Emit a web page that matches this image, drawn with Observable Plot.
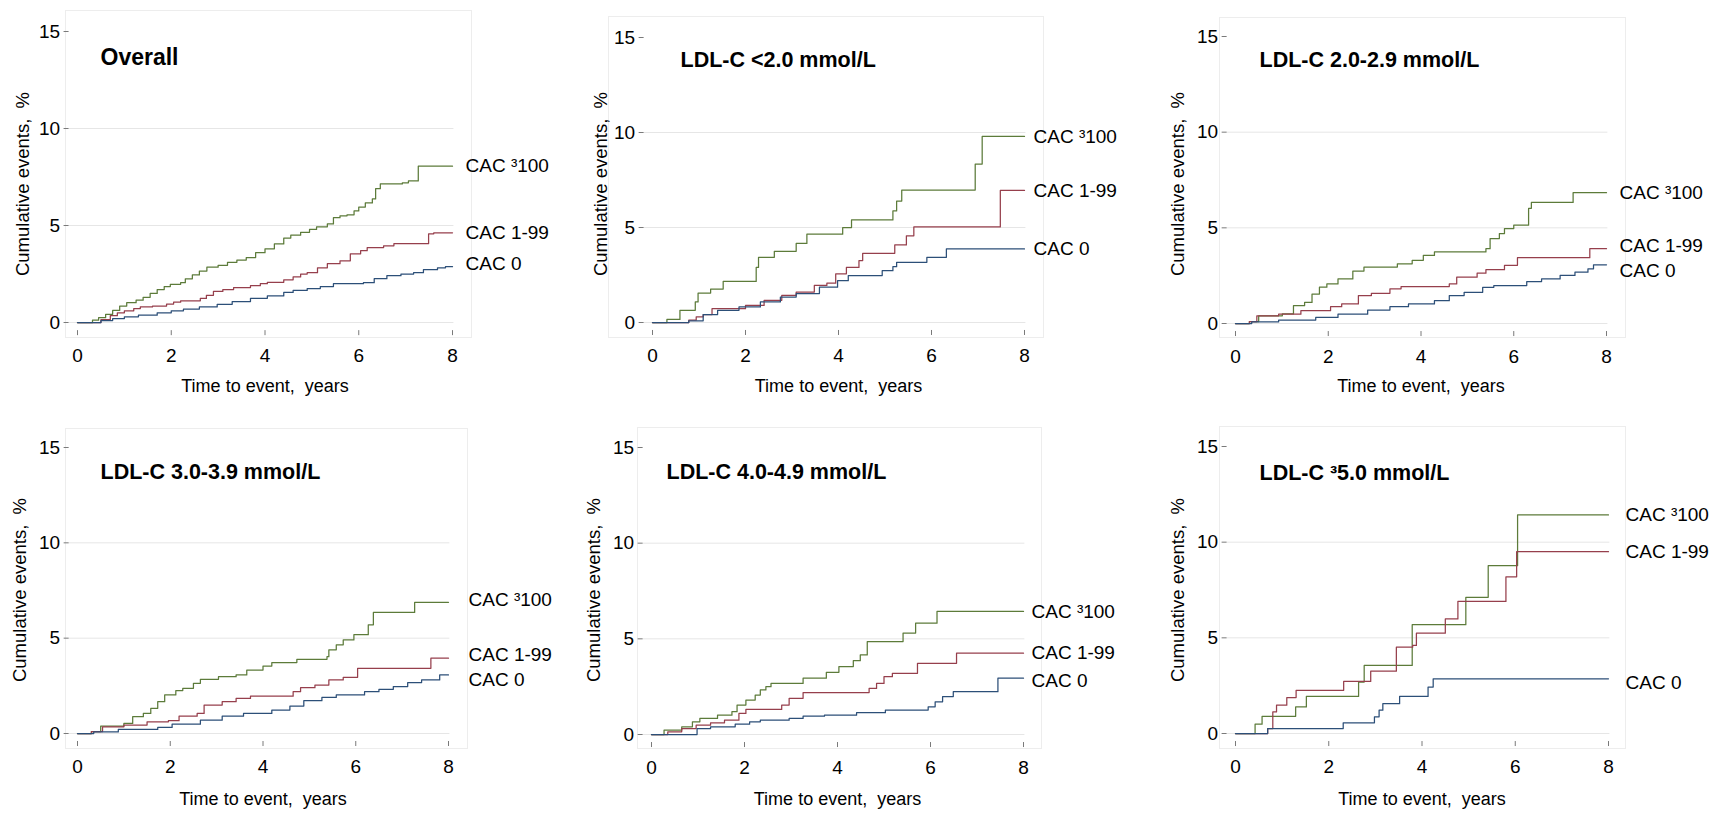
<!DOCTYPE html>
<html>
<head>
<meta charset="utf-8">
<script src="https://cdn.jsdelivr.net/npm/d3@7"></script>
<script src="https://cdn.jsdelivr.net/npm/@observablehq/plot@0.6"></script>
<style>
  body { margin: 0; background: #ffffff; }
  #fig { position: relative; width: 1711px; height: 817px; overflow: hidden; background: #ffffff;
         font-family: "Liberation Sans", Arial, sans-serif; }
  .box { position: absolute; border: 1px solid #ededed; box-sizing: border-box; }
  .ytitle { position: absolute; white-space: nowrap; font-size: 18.5px; color: #000; line-height: 1;
            transform: translate(-50%, -50%) rotate(-90deg); }
</style>
</head>
<body>
<div id="fig"></div>
<script>
// ---------- text & categories ----------
const seriesNames = ["CAC \u00b3100", "CAC 1-99", "CAC 0"];
const seriesColors = ["#5c7b3a", "#963f4c", "#2c4f78"];
const panelTitles = ["Overall", "LDL-C <2.0 mmol/L", "LDL-C 2.0-2.9 mmol/L",
                     "LDL-C 3.0-3.9 mmol/L", "LDL-C 4.0-4.9 mmol/L", "LDL-C \u00b35.0 mmol/L"];
const xTicks = [0, 2, 4, 6, 8];
const yTicks = [0, 5, 10, 15];
const yGrid = [0, 5, 10];
const xAxisTitle = "Time to event,\u00a0 years";
const yAxisTitle = "Cumulative events,\u00a0 %";

// ---------- series values: [time (years), cumulative events (%)] ----------
const overall100 = [[0,0],[0.27,0],[0.32,0.12],[0.45,0.25],[0.6,0.42],[0.75,0.62],[0.9,0.85],[1.05,1.02],[1.25,1.15],[1.4,1.3],[1.55,1.5],[1.7,1.7],[1.85,1.85],[1.98,1.97],[2.2,2.05],[2.3,2.25],[2.45,2.45],[2.6,2.65],[2.76,2.85],[3.0,2.95],[3.2,3.1],[3.4,3.22],[3.6,3.35],[3.8,3.6],[4.0,3.8],[4.2,4.05],[4.4,4.35],[4.55,4.5],[4.76,4.65],[4.95,4.8],[5.1,4.93],[5.33,5.08],[5.46,5.4],[5.6,5.5],[5.75,5.55],[5.9,5.75],[6.0,5.95],[6.14,6.16],[6.29,6.37],[6.36,6.9],[6.46,7.14],[6.93,7.2],[7.06,7.3],[7.27,8.06],[8,8.06]];
const overall199 = [[0,0],[0.4,0],[0.5,0.15],[0.7,0.35],[0.85,0.5],[1.0,0.6],[1.2,0.72],[1.34,0.8],[1.6,0.85],[1.9,0.95],[2.05,1.05],[2.2,1.12],[2.62,1.24],[2.75,1.4],[2.9,1.6],[3.1,1.7],[3.33,1.8],[3.69,1.9],[3.9,2.0],[4.05,2.07],[4.4,2.2],[4.6,2.35],[4.76,2.5],[4.9,2.57],[5.12,2.82],[5.33,3.03],[5.6,3.18],[5.82,3.54],[6.04,3.7],[6.18,3.86],[6.53,3.95],[6.75,4.06],[7.49,4.57],[7.6,4.62],[8,4.62]];
const overall0 = [[0,0],[0.3,0],[0.5,0.1],[0.75,0.2],[1.0,0.29],[1.3,0.38],[1.7,0.5],[2.0,0.6],[2.26,0.69],[2.6,0.8],[2.98,0.94],[3.3,1.08],[3.69,1.25],[4.05,1.37],[4.4,1.55],[4.6,1.65],[4.9,1.75],[5.18,1.85],[5.46,2.0],[6.1,2.05],[6.33,2.26],[6.6,2.41],[6.9,2.5],[7.17,2.57],[7.38,2.72],[7.68,2.82],[7.85,2.88],[8,2.88]];

const ldl1_100 = [[0,0],[0.31,0.16],[0.59,0.64],[0.92,1.08],[0.98,1.55],[1.25,1.76],[1.52,2.16],[2.23,2.9],[2.28,3.43],[2.62,3.75],[3.09,4.16],[3.32,4.65],[4.09,5.0],[4.28,5.4],[5.17,5.87],[5.25,6.39],[5.36,6.97],[6.94,8.34],[7.09,9.79],[8,9.79]];
const ldl1_199 = [[0,0],[0.78,0.12],[0.94,0.3],[1.09,0.42],[1.28,0.73],[2.0,0.9],[2.4,1.17],[2.78,1.43],[3.09,1.6],[3.48,1.95],[3.75,2.07],[3.94,2.56],[4.17,2.9],[4.44,3.26],[4.52,3.64],[5.21,4.08],[5.46,4.56],[5.62,5.03],[7.48,6.95],[8,6.95]];
const ldl1_0 = [[0,0],[0.78,0.09],[1.09,0.42],[1.4,0.64],[1.86,0.82],[2.32,1.08],[2.75,1.34],[3.09,1.52],[3.59,1.86],[3.98,2.2],[4.21,2.47],[4.94,2.73],[5.17,2.94],[5.25,3.17],[5.9,3.43],[6.32,3.87],[8,3.87]];

const ldl2_100 = [[0,0],[0.3,0.1],[0.5,0.4],[1.01,0.5],[1.25,0.93],[1.49,1.1],[1.65,1.54],[1.81,1.9],[1.97,2.07],[2.21,2.33],[2.53,2.74],[2.77,2.95],[3.49,3.12],[3.81,3.3],[4.05,3.56],[4.29,3.74],[5.4,3.91],[5.49,4.44],[5.69,4.7],[5.8,4.96],[6.0,5.14],[6.32,6.02],[6.38,6.33],[7.28,6.84],[8,6.84]];
const ldl2_199 = [[0,0],[0.3,0.1],[0.46,0.4],[0.93,0.49],[1.41,0.67],[2.05,0.88],[2.29,1.02],[2.65,1.46],[2.93,1.58],[3.33,1.81],[3.57,1.93],[4.61,2.07],[4.77,2.42],[5.21,2.63],[5.4,2.81],[5.8,3.04],[6.08,3.44],[7.64,3.91],[8,3.91]];
const ldl2_0 = [[0,0],[0.35,0.08],[0.93,0.18],[1.73,0.32],[2.21,0.49],[2.85,0.7],[3.33,0.88],[3.73,1.02],[4.29,1.19],[4.61,1.46],[4.93,1.63],[5.33,1.89],[5.57,1.98],[6.28,2.19],[6.6,2.33],[7.0,2.51],[7.32,2.68],[7.6,2.86],[7.72,3.07],[8,3.07]];

const ldl3_100 = [[0,0],[0.3,0.1],[0.5,0.39],[1.0,0.53],[1.19,0.88],[1.42,1.05],[1.58,1.32],[1.73,1.67],[1.88,2.02],[2.12,2.25],[2.27,2.37],[2.5,2.63],[2.65,2.84],[3.04,2.98],[3.42,3.07],[3.65,3.33],[4.0,3.54],[4.19,3.72],[4.73,3.89],[5.38,4.03],[5.42,4.39],[5.58,4.65],[5.73,4.91],[5.96,5.18],[6.27,5.7],[6.38,6.35],[7.27,6.88],[8,6.88]];
const ldl3_199 = [[0,0],[0.3,0.1],[0.54,0.35],[1.0,0.44],[1.5,0.61],[1.96,0.67],[2.19,0.91],[2.58,1.05],[2.73,1.49],[3.12,1.67],[3.42,1.84],[3.73,1.96],[4.65,2.19],[4.81,2.4],[5.12,2.54],[5.42,2.81],[5.73,2.95],[6.04,3.42],[7.62,3.95],[8,3.95]];
const ldl3_0 = [[0,0],[0.35,0.08],[0.88,0.21],[1.73,0.32],[2.04,0.49],[2.65,0.7],[3.12,0.91],[3.58,1.05],[4.19,1.23],[4.58,1.44],[4.88,1.72],[5.27,1.89],[5.58,2.02],[6.19,2.19],[6.5,2.32],[6.81,2.46],[7.12,2.67],[7.42,2.81],[7.81,3.07],[8,3.07]];

const ldl4_100 = [[0,0],[0.27,0.23],[0.65,0.4],[0.88,0.66],[1.04,0.84],[1.42,1.01],[1.73,1.19],[1.84,1.54],[2.03,1.8],[2.23,2.06],[2.34,2.33],[2.46,2.5],[2.57,2.67],[3.26,2.94],[3.76,3.25],[4.03,3.55],[4.34,3.86],[4.49,4.16],[4.64,4.86],[5.41,5.3],[5.68,5.82],[6.14,6.43],[8,6.43]];
const ldl4_199 = [[0,0],[0.35,0.14],[0.65,0.31],[0.96,0.49],[1.27,0.61],[1.57,0.75],[1.88,1.1],[2.03,1.31],[2.8,1.54],[2.96,1.89],[3.26,2.19],[4.68,2.41],[4.84,2.67],[5.0,3.02],[5.18,3.2],[5.72,3.72],[6.56,4.25],[8,4.25]];
const ldl4_0 = [[0,0],[0.98,0.31],[1.27,0.4],[1.8,0.54],[2.11,0.66],[2.34,0.75],[2.96,0.84],[3.26,0.96],[3.72,1.01],[4.41,1.14],[5.03,1.28],[5.95,1.45],[6.1,1.71],[6.26,1.98],[6.49,2.24],[7.45,2.94],[8,2.94]];

const ldl5_100 = [[0,0],[0.42,0.49],[0.57,0.9],[1.29,1.39],[1.52,1.94],[2.64,2.69],[2.76,3.56],[3.79,5.69],[4.94,7.12],[5.42,8.77],[6.05,11.42],[8,11.42]];
const ldl5_199 = [[0,0],[0.69,0.26],[0.8,1.13],[0.88,1.48],[1.1,1.88],[1.3,2.26],[2.32,2.72],[2.9,3.26],[3.45,4.51],[3.8,4.6],[3.88,5.24],[4.5,5.99],[4.77,6.9],[5.8,8.19],[6.03,9.5],[8,9.5]];
const ldl5_0 = [[0,0],[0.69,0.26],[2.31,0.56],[2.98,0.87],[3.08,1.22],[3.16,1.56],[3.52,1.94],[4.13,2.43],[4.24,2.86],[8,2.86]];

const panelSeries = [
  [overall100, overall199, overall0],
  [ldl1_100, ldl1_199, ldl1_0],
  [ldl2_100, ldl2_199, ldl2_0],
  [ldl3_100, ldl3_199, ldl3_0],
  [ldl4_100, ldl4_199, ldl4_0],
  [ldl5_100, ldl5_199, ldl5_0]
];

// ---------- layout (page pixels) ----------
const layout = [
  {L:0,    T:0,   W:570, H:408, x0:77,   x8:452,  y0:322, y15:31,  labelDx:13, nudge:[0,0,-3],  titleX:100,  titleY:57,  titleSize:23,   yTitleX:23,   yTitleY:184, xTitleY:386, box:[65,10,472,338]},
  {L:570,  T:0,   W:570, H:408, x0:652,  x8:1024, y0:322, y15:37,  labelDx:9,  nudge:[0,0,0],   titleX:680,  titleY:60,  titleSize:21.5, yTitleX:601,  yTitleY:184, xTitleY:386, box:[608,16,1044,338]},
  {L:1140, T:0,   W:571, H:408, x0:1235, x8:1606, y0:323, y15:36,  labelDx:13, nudge:[0,-3,6],  titleX:1259, titleY:60,  titleSize:21.5, yTitleX:1178, yTitleY:184, xTitleY:386, box:[1219,17,1626,338]},
  {L:0,    T:408, W:570, H:409, x0:77,   x8:448,  y0:733, y15:447, labelDx:20, nudge:[-2,-3,5], titleX:100,  titleY:472, titleSize:21.5, yTitleX:20,   yTitleY:590, xTitleY:799, box:[65,428,468,749]},
  {L:570,  T:408, W:570, H:409, x0:651,  x8:1023, y0:734, y15:447, labelDx:8,  nudge:[0,0,3],   titleX:666,  titleY:472, titleSize:21.5, yTitleX:594,  yTitleY:590, xTitleY:799, box:[637,427,1042,749]},
  {L:1140, T:408, W:571, H:409, x0:1235, x8:1608, y0:733, y15:446, labelDx:17, nudge:[0,0,4],   titleX:1259, titleY:473, titleSize:21.5, yTitleX:1178, yTitleY:590, xTitleY:799, box:[1219,426,1626,749]}
];
const xmin = -0.18, xmax = 8.03, ymin = -0.42, ymax = 15.35;
const FONT = '"Liberation Sans", Arial, sans-serif';

const fig = document.getElementById("fig");

layout.forEach((g, i) => {
  // faint plot-region outline
  const b = document.createElement("div");
  b.className = "box";
  b.style.left = g.box[0] + "px"; b.style.top = g.box[1] + "px";
  b.style.width = (g.box[2] - g.box[0]) + "px"; b.style.height = (g.box[3] - g.box[1]) + "px";
  fig.appendChild(b);

  const kx = (g.x8 - g.x0) / 8, ky = (g.y0 - g.y15) / 15;
  const left = g.x0 + xmin * kx, right = g.x0 + xmax * kx;
  const top = g.y15 - (ymax - 15) * ky, bottom = g.y0 - ymin * ky;
  const ml = left - g.L, mr = g.L + g.W - right, mt = top - g.T, mb = g.T + g.H - bottom;

  const rows = seriesNames.flatMap((n, j) => panelSeries[i][j].map(([t, v]) => ({series: n, t, v})));
  const last = seriesNames.map((n, j) => {
    const s = panelSeries[i][j]; const q = s[s.length - 1];
    return {series: n, t: q[0], v: q[1], nudge: g.nudge[j]};
  });
  const at = (X, Y) => ({frameAnchor: "top-left", dx: X - (g.L + ml), dy: Y - (g.T + mt), lineAnchor: "middle"});

  const chart = Plot.plot({
    width: g.W, height: g.H,
    marginLeft: ml, marginRight: mr, marginTop: mt, marginBottom: mb,
    x: {domain: [xmin, xmax]},
    y: {domain: [ymin, ymax]},
    color: {domain: seriesNames, range: seriesColors},
    style: {fontFamily: FONT, fontSize: "19px", color: "#000", background: "transparent", overflow: "visible"},
    marks: [
      Plot.gridY(yGrid, {stroke: "#e6e6e6", strokeOpacity: 1}),
      Plot.axisX({ticks: xTicks, tickSize: 5, tickPadding: 13, fontSize: 19, stroke: "#7a7a7a", line: true, label: null}),
      Plot.axisY({ticks: yTicks, tickSize: 5, tickPadding: 4, fontSize: 19, stroke: "#7a7a7a", line: true, label: null}),
      Plot.line(rows, {x: "t", y: "v", z: "series", stroke: "series", curve: "step-after", strokeWidth: 1.25}),
      ...last.map(d => Plot.text([d], {x: "t", y: "v", text: "series", dx: g.labelDx, dy: d.nudge, textAnchor: "start", lineAnchor: "middle", fontSize: 19, fill: "#000"})),
      Plot.text([panelTitles[i]], {text: d => d, ...at(g.titleX, g.titleY), textAnchor: "start", fontSize: g.titleSize, fontWeight: "bold", fill: "#000"}),
      Plot.text([xAxisTitle], {text: d => d, ...at((g.x0 + g.x8) / 2, g.xTitleY), textAnchor: "middle", fontSize: 18, fill: "#000"})
    ]
  });
  chart.style.position = "absolute";
  chart.style.left = g.L + "px";
  chart.style.top = g.T + "px";
  fig.appendChild(chart);

  // rotated y-axis title as real text
  const yt = document.createElement("div");
  yt.className = "ytitle";
  yt.textContent = yAxisTitle;
  yt.style.left = g.yTitleX + "px";
  yt.style.top = g.yTitleY + "px";
  fig.appendChild(yt);
});
</script>
</body>
</html>
